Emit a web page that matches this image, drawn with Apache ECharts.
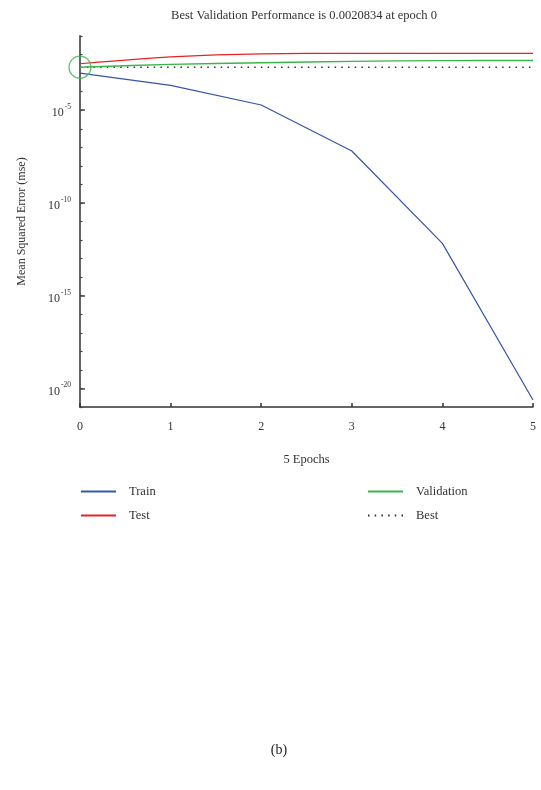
<!DOCTYPE html>
<html>
<head>
<meta charset="utf-8">
<script src="https://cdn.jsdelivr.net/npm/echarts@6/dist/echarts.min.js"></script>
<style>
  html, body { margin: 0; padding: 0; background: #fff; }
  #main { width: 541px; height: 790px; }
</style>
</head>
<body>
<div id="main"></div>
<script>
// data (mse per epoch)
var epochs = [0, 1, 2, 3, 4, 5];
var trainMse = [1.0e-3, 2.2e-4, 1.9e-5, 6.3e-8, 6.6e-13, 2.4e-21];
var testMse = [3.2e-3, 7.5e-3, 1.1e-2, 1.15e-2, 1.15e-2, 1.15e-2];
var valMse = [0.0020834, 2.95e-3, 3.6e-3, 4.3e-3, 4.7e-3, 4.8e-3];
var bestMse = [0.0020834, 0.0020834, 0.0020834, 0.0020834, 0.0020834, 0.0020834];
var bestEpoch = 0;
var bestValue = 0.0020834;
var majorExp = [-20, -15, -10, -5];

var font = 'Liberation Serif';
var textColor = '#333';

// the y axis is drawn in powers of ten
function toExp(arr) {
    return arr.map(function (v, i) { return [epochs[i], Math.log10(v)]; });
}

var chart = echarts.init(document.getElementById('main'));

var legendCommon = {
    orient: 'vertical', top: 485, padding: 0,
    itemWidth: 35, itemHeight: 12, itemGap: 11,
    itemStyle: { opacity: 0 },
    textStyle: { fontFamily: font, fontSize: 12.5, color: textColor, padding: [0, 0, 0, 8] }
};

var option = {
    animation: false,
    textStyle: { fontFamily: font },
    title: [
        {
            text: 'Best Validation Performance is 0.0020834 at epoch 0',
            left: 299, top: 4, textAlign: 'center',
            textStyle: { fontFamily: font, fontSize: 12.5, fontWeight: 'normal', color: textColor }
        },
        {
            text: '(b)',
            left: 274, top: 738, textAlign: 'center',
            textStyle: { fontFamily: font, fontSize: 14, fontWeight: 'normal', color: '#222' }
        }
    ],
    grid: { left: 80, right: 8, top: 36, bottom: 383, containLabel: false },
    legend: [
        Object.assign({}, legendCommon, { left: 80, data: ['Train', 'Test'] }),
        Object.assign({}, legendCommon, { left: 367, data: ['Validation', 'Best'] })
    ],
    xAxis: {
        type: 'value',
        min: 0, max: 5, interval: 1,
        name: '5 Epochs',
        nameLocation: 'middle',
        nameGap: 46,
        nameTextStyle: { fontFamily: font, fontSize: 12.5, color: textColor },
        axisLine: { lineStyle: { color: '#333', width: 1.5 } },
        axisTick: { inside: true, length: 4, lineStyle: { color: '#333', width: 1.5 } },
        axisLabel: { margin: 14, fontFamily: font, fontSize: 12, color: textColor },
        splitLine: { show: false }
    },
    yAxis: [
        {
            type: 'value',
            min: -21, max: -1, interval: 1,
            name: 'Mean Squared Error (mse)',
            nameLocation: 'middle',
            nameGap: 52,
            nameTextStyle: { fontFamily: font, fontSize: 12, color: textColor },
            axisLine: { lineStyle: { color: '#555', width: 1.8 } },
            axisTick: { inside: true, length: 5, customValues: majorExp, lineStyle: { color: '#444', width: 1.5 } },
            axisLabel: {
                margin: 9,
                customValues: majorExp,
                formatter: function (v) { return '{b|10}{s|' + v + '}'; },
                rich: {
                    b: { fontFamily: font, fontSize: 12, color: textColor, verticalAlign: 'bottom', padding: [6, 0, 0, 0] },
                    s: { fontFamily: font, fontSize: 7.5, color: textColor, verticalAlign: 'top', padding: [2, 0, 0, 1] }
                }
            },
            splitLine: { show: false }
        },
        {
            type: 'value',
            min: -21, max: -1, interval: 1,
            position: 'left',
            axisLine: { show: false },
            axisTick: { inside: true, length: 2.5, lineStyle: { color: '#444', width: 1.2 } },
            axisLabel: { show: false },
            splitLine: { show: false }
        }
    ],
    series: [
        {
            name: 'Train', type: 'line', data: toExp(trainMse), symbol: 'none', z: 3,
            lineStyle: { color: '#3456a8', width: 1.2 }, itemStyle: { color: '#3456a8' }
        },
        {
            name: 'Test', type: 'line', data: toExp(testMse), symbol: 'none', smooth: 0.3, z: 3,
            lineStyle: { color: '#e52421', width: 1.2 }, itemStyle: { color: '#e52421' }
        },
        {
            name: 'Validation', type: 'line', data: toExp(valMse), symbol: 'none', smooth: 0.3, z: 3,
            lineStyle: { color: '#3bb54a', width: 1.4 }, itemStyle: { color: '#3bb54a' }
        },
        {
            name: 'Best', type: 'line', data: toExp(bestMse), symbol: 'none', z: 2,
            lineStyle: { color: '#333', width: 1.5, type: [1.5, 5.2] }, itemStyle: { color: '#333' }
        },
        {
            name: 'bestPoint', type: 'scatter',
            data: [[bestEpoch, Math.log10(bestValue)]],
            symbol: 'circle', symbolSize: 22, z: 4,
            itemStyle: { color: 'rgba(0,0,0,0)', borderColor: '#3bb54a', borderWidth: 1.2 }
        }
    ]
};

chart.setOption(option);
</script>
</body>
</html>
